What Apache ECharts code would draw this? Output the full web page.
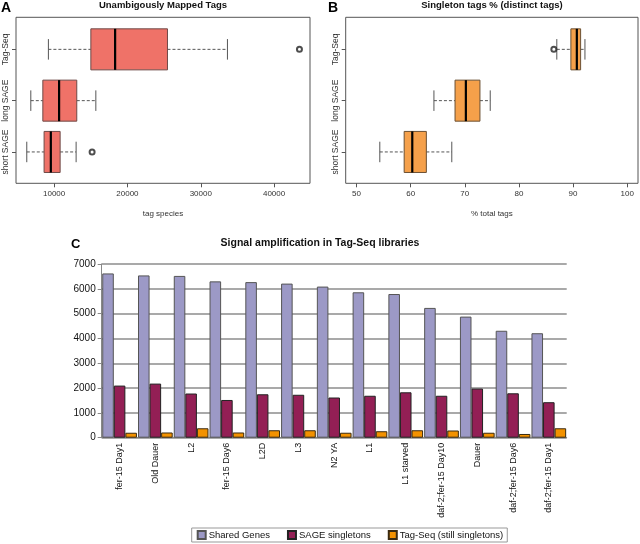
<!DOCTYPE html>
<html>
<head>
<meta charset="utf-8">
<script src="https://cdn.jsdelivr.net/npm/echarts@6/dist/echarts.min.js"></script>
<style>
  html, body { margin: 0; padding: 0; background: #fff; }
  #chart { width: 640px; height: 544px; }
</style>
</head>
<body>
<div id="chart"></div>
<script>
// box plots (A, B): low whisker, q1, median, q3, high whisker
const boxCats = ['short SAGE', 'long SAGE', 'Tag-Seq'];
const mappedStats = [
  [6270, 8630, 9550, 10820, 13000],
  [6820, 8460, 10680, 13090, 15690],
  [9220, 15010, 18320, 25460, 33640]
];
const mappedOutliers = [[15180, 0], [43460, 2]];
const singletonStats = [
  [54.3, 58.8, 60.3, 62.9, 67.6],
  [64.3, 68.2, 70.2, 72.8, 74.7],
  [87.0, 89.6, 90.7, 91.4, 92.2]
];
const singletonOutliers = [[86.45, 2]];
const mappedTicks = [10000, 20000, 30000, 40000];
const singletonTicks = [50, 60, 70, 80, 90, 100];

// bar chart (C)
const libraries = ['fer-15 Day1', 'Old Dauer', 'L2', 'fer-15 Day6', 'L2D', 'L3', 'N2 YA', 'L1',
  'L1 starved', 'daf-2;fer-15 Day10', 'Dauer', 'daf-2;fer-15 Day6', 'daf-2;fer-15 Day1'];
const sharedGenes = [6620, 6540, 6520, 6300, 6270, 6210, 6090, 5860, 5790, 5230, 4880, 4310, 4210];
const sageSingletons = [2100, 2180, 1780, 1520, 1750, 1730, 1620, 1690, 1830, 1690, 1980, 1790, 1430];
const tagSeqSingletons = [200, 210, 380, 210, 300, 300, 200, 260, 300, 290, 200, 150, 380];

const FONT = '"Liberation Sans", Arial, sans-serif';
const plain = v => String(v);

function boxRenderer(fill, border) {
  return function (params, api) {
    const c = api.value(0);
    const lo = api.coord([api.value(1), c]);
    const q1 = api.coord([api.value(2), c]);
    const md = api.coord([api.value(3), c]);
    const q3 = api.coord([api.value(4), c]);
    const hi = api.coord([api.value(5), c]);
    const band = api.size([0, 1])[1];
    const h = band * 0.8;
    const cap = h / 4;
    const y = md[1];
    const dash = { stroke: '#555', lineWidth: 1, lineDash: [3, 2] };
    const solid = { stroke: '#555', lineWidth: 1 };
    return {
      type: 'group',
      children: [
        { type: 'line', shape: { x1: lo[0], y1: y, x2: q1[0], y2: y }, style: dash },
        { type: 'line', shape: { x1: q3[0], y1: y, x2: hi[0], y2: y }, style: dash },
        { type: 'line', shape: { x1: lo[0], y1: y - cap, x2: lo[0], y2: y + cap }, style: solid },
        { type: 'line', shape: { x1: hi[0], y1: y - cap, x2: hi[0], y2: y + cap }, style: solid },
        { type: 'rect', shape: { x: q1[0], y: y - h / 2, width: q3[0] - q1[0], height: h },
          style: { fill: fill, stroke: border, lineWidth: 1 } },
        { type: 'line', shape: { x1: md[0], y1: y - h / 2, x2: md[0], y2: y + h / 2 },
          style: { stroke: '#000', lineWidth: 2.2 } }
      ]
    };
  };
}

function boxXAxis(idx, min, max, ticks, name) {
  return {
    type: 'value', gridIndex: idx, min: min, max: max, offset: 5.7,
    splitLine: { show: false },
    axisLine: { show: false },
    axisTick: { show: true, length: 4, lineStyle: { color: '#555' }, customValues: ticks },
    axisLabel: { fontSize: 8, color: '#333', fontFamily: FONT, margin: 6, customValues: ticks, formatter: plain },
    name: name, nameLocation: 'middle', nameGap: 26,
    nameTextStyle: { fontSize: 8, color: '#333', fontFamily: FONT }
  };
}

function boxYAxis(idx) {
  return {
    type: 'category', gridIndex: idx, data: boxCats,
    axisLine: { show: false },
    axisTick: { show: true, alignWithLabel: true, length: 4, lineStyle: { color: '#555' } },
    axisLabel: { rotate: 90, interval: 0, hideOverlap: false, fontSize: 8.5, color: '#333', fontFamily: FONT, margin: 6 }
  };
}

const chart = echarts.init(document.getElementById('chart'));

const option = {
  animation: false,
  backgroundColor: '#fff',
  grid: [
    { left: 16, top: 23.7, width: 294, height: 153.9 },
    { left: 345.7, top: 23.7, width: 292.3, height: 153.9 },
    { left: 101.7, top: 264, width: 465, height: 173.7 }
  ],
  xAxis: [
    boxXAxis(0, 4800, 44900, mappedTicks, 'tag species'),
    boxXAxis(1, 48, 102, singletonTicks, '% total tags'),
    {
      type: 'category', gridIndex: 2, data: libraries,
      axisLine: { lineStyle: { color: '#888', width: 1 } },
      axisTick: { length: 4, lineStyle: { color: '#888' } },
      axisLabel: { rotate: 90, interval: 0, fontSize: 9, color: '#111', fontFamily: FONT, margin: 5 }
    }
  ],
  yAxis: [
    boxYAxis(0),
    boxYAxis(1),
    {
      type: 'value', gridIndex: 2, min: 0, max: 7000, interval: 1000,
      axisLine: { show: true, lineStyle: { color: '#888' } },
      axisTick: { show: true, length: 4, lineStyle: { color: '#888' } },
      axisLabel: { fontSize: 10, color: '#111', fontFamily: FONT, margin: 6, formatter: plain },
      splitLine: { lineStyle: { color: '#8c8c8c', width: 1.5 } }
    }
  ],
  legend: {
    data: ['Shared Genes', 'SAGE singletons', 'Tag-Seq (still singletons)'],
    left: 191.7, top: 528,
    itemWidth: 8, itemHeight: 8, itemGap: 17,
    icon: 'rect',
    padding: [2, 4, 2, 5],
    borderColor: '#999', borderWidth: 1,
    textStyle: { fontSize: 9.5, color: '#111', fontFamily: FONT, padding: [0, 0, 0, -2] }
  },
  graphic: [
    { type: 'rect', shape: { x: 16, y: 17.3, width: 294, height: 166 }, style: { fill: null, stroke: '#555', lineWidth: 1 } },
    { type: 'rect', shape: { x: 345.7, y: 17.3, width: 292.3, height: 166 }, style: { fill: null, stroke: '#555', lineWidth: 1 } },
    { type: 'text', x: 1, y: 8, style: { text: 'A', font: 'bold 14px ' + FONT, fill: '#000', textVerticalAlign: 'middle' } },
    { type: 'text', x: 328, y: 8, style: { text: 'B', font: 'bold 14px ' + FONT, fill: '#000', textVerticalAlign: 'middle' } },
    { type: 'text', x: 71, y: 244, style: { text: 'C', font: 'bold 13px ' + FONT, fill: '#000', textVerticalAlign: 'middle' } },
    { type: 'text', x: 163, y: 5, style: { text: 'Unambigously Mapped Tags', font: 'bold 9.5px ' + FONT, fill: '#111', textAlign: 'center', textVerticalAlign: 'middle' } },
    { type: 'text', x: 492, y: 5, style: { text: 'Singleton tags % (distinct tags)', font: 'bold 9.5px ' + FONT, fill: '#111', textAlign: 'center', textVerticalAlign: 'middle' } },
    { type: 'text', x: 320, y: 243, style: { text: 'Signal amplification in Tag-Seq libraries', font: 'bold 10.5px ' + FONT, fill: '#111', textAlign: 'center', textVerticalAlign: 'middle' } }
  ],
  series: [
    {
      type: 'custom', xAxisIndex: 0, yAxisIndex: 0,
      renderItem: boxRenderer('#ef7268', '#6e4a47'),
      encode: { x: [1, 2, 3, 4, 5], y: 0 },
      data: mappedStats.map((s, i) => [i].concat(s))
    },
    {
      type: 'scatter', xAxisIndex: 0, yAxisIndex: 0,
      symbol: 'emptyCircle', symbolSize: 5,
      itemStyle: { color: '#222', borderWidth: 0.8 },
      data: mappedOutliers
    },
    {
      type: 'custom', xAxisIndex: 1, yAxisIndex: 1,
      renderItem: boxRenderer('#f5a04a', '#6b5033'),
      encode: { x: [1, 2, 3, 4, 5], y: 0 },
      data: singletonStats.map((s, i) => [i].concat(s))
    },
    {
      type: 'scatter', xAxisIndex: 1, yAxisIndex: 1,
      symbol: 'emptyCircle', symbolSize: 5,
      itemStyle: { color: '#222', borderWidth: 0.8 },
      data: singletonOutliers
    },
    {
      name: 'Shared Genes', type: 'bar', xAxisIndex: 2, yAxisIndex: 2,
      data: sharedGenes, barGap: '0%', barCategoryGap: '3%',
      itemStyle: { color: '#9c99c6', borderColor: '#555', borderWidth: 1 }
    },
    {
      name: 'SAGE singletons', type: 'bar', xAxisIndex: 2, yAxisIndex: 2,
      data: sageSingletons,
      itemStyle: { color: '#931f55', borderColor: '#222', borderWidth: 1 }
    },
    {
      name: 'Tag-Seq (still singletons)', type: 'bar', xAxisIndex: 2, yAxisIndex: 2,
      data: tagSeqSingletons,
      itemStyle: { color: '#f39200', borderColor: '#3a2a10', borderWidth: 1 }
    }
  ]
};

chart.setOption(option);
</script>
</body>
</html>
